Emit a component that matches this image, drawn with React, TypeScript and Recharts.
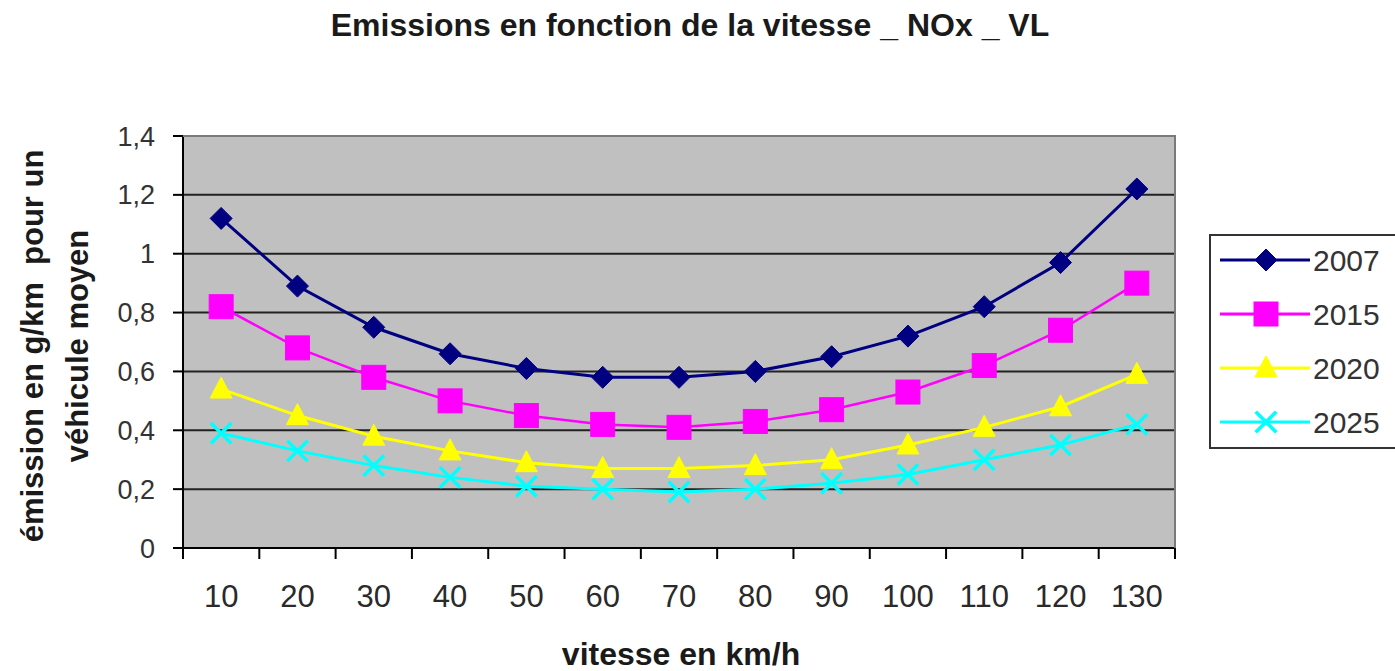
import React from 'react';
import { LineChart, Line, XAxis, YAxis, CartesianGrid } from 'recharts';

const speeds = ['10', '20', '30', '40', '50', '60', '70', '80', '90', '100', '110', '120', '130'];
const nox2007 = [1.12, 0.89, 0.75, 0.66, 0.61, 0.58, 0.58, 0.6, 0.65, 0.72, 0.82, 0.97, 1.22];
const nox2015 = [0.82, 0.68, 0.58, 0.5, 0.45, 0.42, 0.41, 0.43, 0.47, 0.53, 0.62, 0.74, 0.9];
const nox2020 = [0.54, 0.45, 0.38, 0.33, 0.29, 0.27, 0.27, 0.28, 0.3, 0.35, 0.41, 0.48, 0.59];
const nox2025 = [0.39, 0.33, 0.28, 0.24, 0.21, 0.2, 0.19, 0.2, 0.22, 0.25, 0.3, 0.35, 0.42];
const yTicks = [0, 0.2, 0.4, 0.6, 0.8, 1, 1.2, 1.4];
const gridValues = [0.2, 0.4, 0.6, 0.8, 1, 1.2];
const seriesNames = ['2007', '2015', '2020', '2025'];
const seriesKeys = ['y2007', 'y2015', 'y2020', 'y2025'];
const seriesColors = ['#000080', '#ff00ff', '#ffff00', '#00ffff'];

const data = speeds.map((s, i) => ({
  speed: s,
  y2007: nox2007[i],
  y2015: nox2015[i],
  y2020: nox2020[i],
  y2025: nox2025[i],
}));

const W = 1395;
const H = 671;
const PLOT_L = 183;
const PLOT_R = 1175;
const PLOT_T = 136;
const PLOT_B = 548;
const Y_AXIS_W = 100;
const X_AXIS_H = 60;
const STEP = (PLOT_R - PLOT_L) / speeds.length;
const FONT = '"Liberation Sans", Arial, sans-serif';

function Marker({ kind, cx, cy, color }: { kind: number; cx: number; cy: number; color: string }) {
  if (cx == null || cy == null) return null;
  if (kind === 0) {
    return (
      <polygon
        points={`${cx},${cy - 11} ${cx + 11},${cy} ${cx},${cy + 11} ${cx - 11},${cy}`}
        fill={color}
        stroke={color}
        strokeWidth={1}
      />
    );
  }
  if (kind === 1) {
    return <rect x={cx - 12} y={cy - 12} width={24} height={24} fill={color} stroke={color} strokeWidth={1} />;
  }
  if (kind === 2) {
    return (
      <polygon
        points={`${cx},${cy - 12} ${cx + 11},${cy + 9} ${cx - 11},${cy + 9}`}
        fill={color}
        stroke={color}
        strokeWidth={1}
      />
    );
  }
  return (
    <g stroke={color} strokeWidth={3.5} strokeLinecap="square">
      <line x1={cx - 9} y1={cy - 9} x2={cx + 9} y2={cy + 9} />
      <line x1={cx - 9} y1={cy + 9} x2={cx + 9} y2={cy - 9} />
    </g>
  );
}

function XTick(props: any) {
  const { x, y, payload, index } = props;
  const last = index === speeds.length - 1;
  return (
    <g>
      <line x1={x - STEP / 2} y1={y} x2={x - STEP / 2} y2={y + 11} stroke="#000" strokeWidth={2} />
      {last && <line x1={x + STEP / 2} y1={y} x2={x + STEP / 2} y2={y + 11} stroke="#000" strokeWidth={2} />}
      <text x={x} y={y + 59} textAnchor="middle" fontSize={31} fill="#2a2a2a" fontFamily={FONT}>
        {payload.value}
      </text>
    </g>
  );
}

const fmt = (v: number) => String(v).replace('.', ',');

export default function App() {
  return (
    <div style={{ position: 'absolute', left: 0, top: 0, width: W, height: H, background: '#fff', overflow: 'hidden' }}>
      <LineChart
        width={W}
        height={H}
        data={data}
        margin={{ top: PLOT_T, right: W - PLOT_R, bottom: H - PLOT_B - X_AXIS_H, left: PLOT_L - Y_AXIS_W }}
      >
        <CartesianGrid
          vertical={false}
          horizontalValues={gridValues}
          fill="#c0c0c0"
          stroke="#222"
          strokeWidth={2}
        />
        <XAxis
          dataKey="speed"
          height={X_AXIS_H}
          tickLine={false}
          tickSize={0}
          tickMargin={0}
          interval={0}
          padding={{ left: STEP / 2, right: STEP / 2 }}
          axisLine={{ stroke: '#000', strokeWidth: 2 }}
          tick={<XTick />}
        />
        <YAxis
          width={Y_AXIS_W}
          domain={[0, 1.4]}
          ticks={yTicks}
          interval={0}
          tickFormatter={fmt}
          tickSize={10}
          tickMargin={18}
          axisLine={{ stroke: '#000', strokeWidth: 2 }}
          tickLine={{ stroke: '#000', strokeWidth: 2 }}
          tick={{ fontSize: 27, fill: '#333', fontFamily: FONT }}
        />
        {seriesKeys.map((k, si) => (
          <Line
            key={k}
            type="linear"
            dataKey={k}
            stroke={seriesColors[si]}
            strokeWidth={si === 1 ? 2.5 : 3}
            isAnimationActive={false}
            activeDot={false}
            dot={(p: any) => (
              <Marker key={`${k}-${p.index}`} kind={si} cx={p.cx} cy={p.cy} color={seriesColors[si]} />
            )}
          />
        ))}
      </LineChart>
      <svg
        width={W}
        height={H}
        style={{ position: 'absolute', left: 0, top: 0, pointerEvents: 'none' }}
        fontFamily={FONT}
      >
        <path
          d={`M${PLOT_L},${PLOT_T} L${PLOT_R},${PLOT_T} L${PLOT_R},${PLOT_B}`}
          fill="none"
          stroke="#7a7a7a"
          strokeWidth={2}
        />
        <text x={690} y={36} textAnchor="middle" fontSize={32} fontWeight="bold" fill="#1a1a1a">
          Emissions en fonction de la vitesse _ NOx _ VL
        </text>
        <text x={681} y={665} textAnchor="middle" fontSize={32} fontWeight="bold" fill="#1a1a1a">
          vitesse en km/h
        </text>
        <text
          transform="translate(43,346) rotate(-90)"
          textAnchor="middle"
          fontSize={31}
          fontWeight="bold"
          fill="#1a1a1a"
          style={{ whiteSpace: 'pre' }}
        >
          {'émission en g/km  pour un'}
        </text>
        <text transform="translate(88,346) rotate(-90)" textAnchor="middle" fontSize={31} fontWeight="bold" fill="#1a1a1a">
          véhicule moyen
        </text>
        <path d="M1400,235 L1210,235 L1210,448 L1400,448" fill="none" stroke="#333" strokeWidth={2} />
        {seriesNames.map((name, i) => {
          const cy = 260 + i * 54;
          return (
            <g key={name}>
              <line x1={1220} y1={cy} x2={1310} y2={cy} stroke={seriesColors[i]} strokeWidth={3} />
              <Marker kind={i} cx={1266} cy={cy} color={seriesColors[i]} />
              <text x={1313} y={cy + 11} fontSize={30} fill="#333">
                {name}
              </text>
            </g>
          );
        })}
      </svg>
    </div>
  );
}
